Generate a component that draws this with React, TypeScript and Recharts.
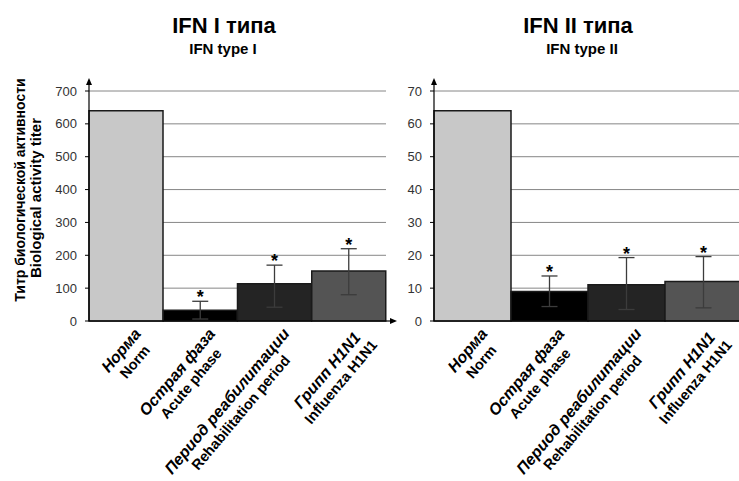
import React from "react";
import {
  ComposedChart,
  Bar,
  Cell,
  Line,
  XAxis,
  YAxis,
  CartesianGrid,
  ErrorBar,
} from "recharts";

// categories (two-line labels)
const categoriesRu = ["Норма", "Острая фаза", "Период реабилитации", "Грипп H1N1"];
const categoriesEn = ["Norm", "Acute phase", "Rehabilitation period", "Influenza H1N1"];

// IFN type I
const ifn1Mean = [640, 33, 113, 152];
const ifn1Upper = [null, 60, 170, 220];
const ifn1Lower = [null, 6, 42, 80];
const ifn1Ticks = [0, 100, 200, 300, 400, 500, 600, 700];

// IFN type II
const ifn2Mean = [64, 9, 11, 12];
const ifn2Upper = [null, 13.7, 19.3, 19.6];
const ifn2Lower = [null, 4.4, 3.5, 4];
const ifn2Ticks = [0, 10, 20, 30, 40, 50, 60, 70];

const barColors = ["#c8c8c8", "#000000", "#242424", "#545454"];

const FONT = "'Liberation Sans', Arial, sans-serif";
const RU_SIZE = 16;
const EN_SIZE = 14.5;
const RU_FONT = `italic bold ${RU_SIZE}px ${FONT}`;
const EN_FONT = `bold ${EN_SIZE}px ${FONT}`;

const buildRows = (mean: number[], upper: (number | null)[], lower: (number | null)[]) =>
  categoriesRu.map((name, i) => ({
    name,
    value: mean[i],
    err: upper[i] == null ? null : [mean[i] - (lower[i] as number), (upper[i] as number) - mean[i]],
    star: upper[i],
  }));

const ifn1Rows = buildRows(ifn1Mean, ifn1Upper, ifn1Lower);
const ifn2Rows = buildRows(ifn2Mean, ifn2Upper, ifn2Lower);

let ctx: CanvasRenderingContext2D | null = null;
const measure = (text: string, font: string) => {
  if (!ctx) ctx = document.createElement("canvas").getContext("2d");
  if (!ctx) return text.length * 8;
  ctx.font = font;
  return ctx.measureText(text).width;
};

const CatTick = (props: any) => {
  const { x, y, payload } = props;
  const i = categoriesRu.indexOf(payload.value);
  const ru = categoriesRu[i];
  const en = categoriesEn[i];
  const w = Math.max(measure(ru, RU_FONT), measure(en, EN_FONT));
  return (
    <g transform={`translate(${x + 18},${y + 15}) rotate(-50)`}>
      <text x={-w / 2} y={-3} textAnchor="middle" fontFamily={FONT} fontWeight="bold" fontStyle="italic" fontSize={RU_SIZE} fill="#000">
        {ru}
      </text>
      <text x={-w / 2} y={14.5} textAnchor="middle" fontFamily={FONT} fontWeight="bold" fontSize={EN_SIZE} fill="#000">
        {en}
      </text>
    </g>
  );
};

const StarDot = (props: any) => {
  const { cx, cy, value, index } = props;
  if (value == null || cy == null) return <g key={index} />;
  return (
    <text key={index} x={cx} y={cy + 2} textAnchor="middle" fontFamily={FONT} fontWeight="bold" fontSize={18} fill="#000">
      *
    </text>
  );
};

const Panel = ({ rows, ticks, width, margin, yWidth }: any) => (
  <ComposedChart
    width={width}
    height={481}
    data={rows}
    margin={margin}
    barCategoryGap={0}
  >
    <CartesianGrid vertical={false} stroke="#868686" strokeWidth={1} />
    <XAxis
      dataKey="name"
      interval={0}
      height={160}
      tickSize={0}
      tickMargin={0}
      tickLine={false}
      axisLine={{ stroke: "#000", strokeWidth: 1.2 }}
      tick={<CatTick />}
    />
    <YAxis
      width={yWidth}
      domain={[ticks[0], ticks[ticks.length - 1]]}
      ticks={ticks}
      interval={0}
      tickSize={4}
      tickMargin={8}
      axisLine={{ stroke: "#000", strokeWidth: 1.2 }}
      tickLine={{ stroke: "#000" }}
      tick={{ fill: "#333", fontSize: 13, fontFamily: FONT }}
    />
    <Bar dataKey="value" stroke="#1a1a1a" strokeWidth={1.5} isAnimationActive={false}>
      {rows.map((r: any, i: number) => (
        <Cell key={r.name} fill={barColors[i]} />
      ))}
      <ErrorBar dataKey="err" width={8} stroke="#3c3c3c" strokeWidth={1.3} direction="y" />
    </Bar>
    <Line
      dataKey="star"
      stroke="none"
      dot={<StarDot />}
      activeDot={false}
      legendType="none"
      isAnimationActive={false}
    />
  </ComposedChart>
);

const Arrows = () => {
  const head = (x: number, y: number, dir: "up" | "right") =>
    dir === "up" ? (
      <polygon points={`${x - 3},${y + 7} ${x + 3},${y + 7} ${x},${y}`} fill="#000" />
    ) : (
      <polygon points={`${x - 7},${y - 3} ${x - 7},${y + 3} ${x},${y}`} fill="#000" />
    );
  return (
    <g>
      <line x1={89} y1={91} x2={89} y2={82} stroke="#000" strokeWidth={1.2} />
      {head(89, 78, "up")}
      <line x1={386} y1={321} x2={392} y2={321} stroke="#000" strokeWidth={1.2} />
      {head(397, 321, "right")}
      <line x1={434} y1={91} x2={434} y2={82} stroke="#000" strokeWidth={1.2} />
      {head(434, 78, "up")}
    </g>
  );
};

export default function App() {
  return (
    <div
      style={{
        position: "absolute",
        left: 0,
        top: 0,
        width: 739,
        height: 481,
        overflow: "hidden",
        background: "#fff",
      }}
    >
      <div style={{ position: "absolute", left: 0, top: 0 }}>
        <Panel rows={ifn1Rows} ticks={ifn1Ticks} width={400} yWidth={49} margin={{ top: 91, right: 14, bottom: 0, left: 40 }} />
      </div>
      <div style={{ position: "absolute", left: 395, top: 0 }}>
        <Panel rows={ifn2Rows} ticks={ifn2Ticks} width={360} yWidth={30} margin={{ top: 91, right: 13, bottom: 0, left: 9 }} />
      </div>
      <svg
        width={739}
        height={481}
        style={{ position: "absolute", left: 0, top: 0, pointerEvents: "none" }}
      >
        <Arrows />
        <text x={224} y={33} textAnchor="middle" fontFamily={FONT} fontWeight="bold" fontSize={22}>IFN I типа</text>
        <text x={223} y={54} textAnchor="middle" fontFamily={FONT} fontWeight="bold" fontSize={15}>IFN type I</text>
        <text x={578} y={33} textAnchor="middle" fontFamily={FONT} fontWeight="bold" fontSize={22}>IFN II типа</text>
        <text x={582} y={54} textAnchor="middle" fontFamily={FONT} fontWeight="bold" fontSize={15}>IFN type II</text>
        <text transform="translate(25,190) rotate(-90)" textAnchor="middle" fontFamily={FONT} fontWeight="bold" fontSize={14}>
          Титр биологической активности
        </text>
        <text transform="translate(41,198) rotate(-90)" textAnchor="middle" fontFamily={FONT} fontWeight="bold" fontSize={15}>
          Biological activity titer
        </text>
      </svg>
    </div>
  );
}
